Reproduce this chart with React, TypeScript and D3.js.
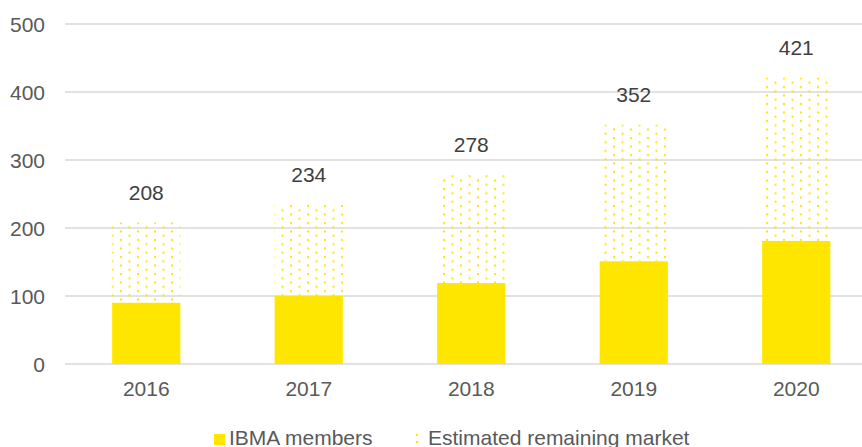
import React from "react";
import * as d3 from "d3";

const years = ["2016", "2017", "2018", "2019", "2020"];
const members = [90, 100, 119, 151, 181];
const totals = [208, 234, 278, 352, 421];
const yTicks = [0, 100, 200, 300, 400, 500];

const W = 862;
const H = 447;
const YELLOW = "#FFE600";
const FONT = "'Liberation Sans', Arial, sans-serif";

export default function App() {
  const x = d3.scaleBand().domain(years).range([65, 877.5]).paddingInner(0.58).paddingOuter(0.29);
  const y = d3.scaleLinear().domain([0, 500]).range([364, 24]);
  const bw = x.bandwidth();
  return (
    <svg width={W} height={H} style={{ position: "absolute", left: 0, top: 0 }}>
      <defs>
        <pattern id="dots" patternUnits="userSpaceOnUse" width={17} height={8.5} x={0} y={0}>
          <rect x={1} y={1} width={2} height={2} fill={YELLOW} />
          <rect x={9.5} y={5.25} width={2} height={2} fill={YELLOW} />
        </pattern>
      </defs>
      <rect width={W} height={H} fill="#fff" />
      {yTicks.map((t) => (
        <g key={t}>
          <line x1={65} x2={862} y1={y(t)} y2={y(t)} stroke="#d9d9d9" strokeWidth={1.5} />
          <text x={45} y={y(t) + 7.5} textAnchor="end" fontFamily={FONT} fontSize={21} fill="#595959">
            {t}
          </text>
        </g>
      ))}
      {years.map((yr, i) => {
        const x0 = x(yr)!;
        return (
          <g key={yr}>
            <rect x={x0} y={y(totals[i])} width={bw} height={y(members[i]) - y(totals[i])} fill="url(#dots)" />
            <rect x={x0} y={y(members[i])} width={bw} height={y(0) - y(members[i])} fill={YELLOW} />
            <text x={x0 + bw / 2} y={y(totals[i]) - 22.5} textAnchor="middle" fontFamily={FONT} fontSize={21} fill="#404040">
              {totals[i]}
            </text>
            <text x={x0 + bw / 2} y={395.5} textAnchor="middle" fontFamily={FONT} fontSize={21} fill="#595959">
              {yr}
            </text>
          </g>
        );
      })}
      <g>
        <rect x={214} y={434} width={11} height={11} fill={YELLOW} />
        <text x={229} y={445} fontFamily={FONT} fontSize={21} fill="#595959">IBMA members</text>
        <rect x={416} y={434} width={2} height={2} fill={YELLOW} />
        <rect x={416} y={441} width={2} height={2} fill={YELLOW} />
        <text x={428} y={445} fontFamily={FONT} fontSize={21} fill="#595959">Estimated remaining market</text>
      </g>
    </svg>
  );
}
